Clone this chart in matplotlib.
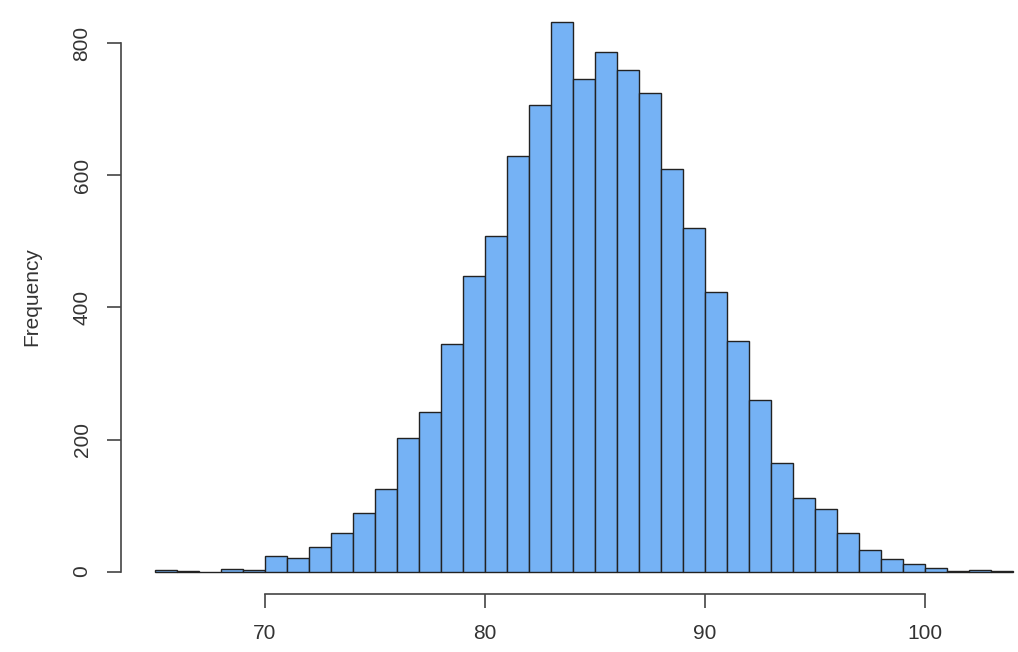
import matplotlib
matplotlib.use("Agg")
import matplotlib.pyplot as plt
import numpy as np

# histogram bins (width 1) and counts
edges = np.arange(65, 105)
counts = [2, 1, 0, 4, 2, 23, 21, 37, 59, 89, 125, 203, 242, 345, 448, 508, 629, 707, 833,
          746, 787, 760, 725, 610, 521, 424, 349, 260, 164, 111, 95, 59, 32, 19, 12, 6, 1, 3, 1]
xticks = [70, 80, 90, 100]
yticks = [0, 200, 400, 600, 800]

plt.rcParams['font.family'] = ['Liberation Sans', 'DejaVu Sans']
fs = 15
txt = '#333333'

fig = plt.figure(figsize=(10.18, 6.52), dpi=100)
ax = fig.add_axes([120.7 / 1018, 58.4 / 652, 926.3 / 1018, 594 / 652])

ax.hist(edges[:-1], bins=edges, weights=counts, color='#75B2F5',
        edgecolor='#222222', linewidth=1.0)

# R-style axis extents: 4% padding around the data range
span = edges[-1] - edges[0]
ax.set_xlim(edges[0] - 0.04 * span, edges[-1] + 0.04 * span)
top = max(counts)
ax.set_ylim(-0.04 * top, 1.04 * top)

for s in ['top', 'right']:
    ax.spines[s].set_visible(False)
ax.spines['bottom'].set_bounds(xticks[0], xticks[-1])
ax.spines['left'].set_bounds(yticks[0], yticks[-1])
for s in ['bottom', 'left']:
    ax.spines[s].set_color('#444444')
    ax.spines[s].set_linewidth(1.2)

ax.set_xticks(xticks)
ax.set_yticks(yticks)
ax.set_yticklabels([str(v) for v in yticks], rotation=90, va='center')
ax.tick_params(axis='both', length=10, width=1.2, color='#444444',
               labelsize=fs, labelcolor=txt)
ax.tick_params(axis='x', pad=12)
ax.tick_params(axis='y', pad=11)

fig.text(32 / 1018, 1 - 296.7 / 652, 'Frequency', rotation=90, ha='center',
         va='center', fontsize=fs, color=txt)

fig.savefig('out.png', dpi=100)
